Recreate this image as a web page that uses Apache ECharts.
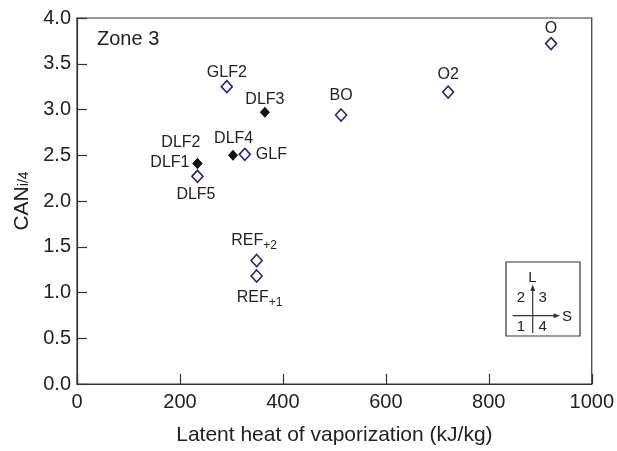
<!DOCTYPE html>
<html>
<head>
<meta charset="utf-8">
<script src="https://cdn.jsdelivr.net/npm/echarts@6/dist/echarts.min.js"></script>
<style>html,body{margin:0;padding:0;background:#fff}#c{width:617px;height:451px}</style>
</head>
<body>
<div id="c"></div>
<script>
// ---- data ----
var openNames = ['O', 'O2', 'BO', 'GLF2', 'GLF', 'DLF5', 'REF+2', 'REF+1'];
var openX = [921, 721, 513, 291, 326, 234, 349, 349];
var openY = [3.72, 3.19, 2.94, 3.25, 2.51, 2.27, 1.35, 1.18];
var filledNames = ['DLF3', 'DLF4', 'DLF1', 'DLF2'];
var filledX = [365, 303, 234, 234];
var filledY = [2.97, 2.50, 2.41, 2.41];
var xTicks = [0, 200, 400, 600, 800, 1000];
var yTicks = [0, 0.5, 1, 1.5, 2, 2.5, 3, 3.5, 4];
var xTitle = 'Latent heat of vaporization (kJ/kg)';
var yTitleMain = 'CAN';
var yTitleSub = 'i/4';
var zoneText = 'Zone 3';

// ---- label placement (style only) ----
var labelPlace = {
  'O':     {align: 'center', off: [0, -15]},
  'O2':    {align: 'center', off: [0, -18]},
  'BO':    {align: 'center', off: [0, -19.5]},
  'GLF2':  {align: 'center', off: [0, -14.5]},
  'GLF':   {align: 'left',   off: [11, 0]},
  'DLF5':  {align: 'center', off: [-1.5, 18]},
  'REF+2': {align: 'center', off: [-2.5, -20]},
  'REF+1': {align: 'center', off: [3, 21.5]},
  'DLF3':  {align: 'center', off: [0, -13]},
  'DLF4':  {align: 'center', off: [0.7, -16.5]},
  'DLF1':  {align: 'right',  off: [-8, -1]},
  'DLF2':  {align: 'right',  off: [3, -21]}
};

var FONT = "'Liberation Sans', Arial, Helvetica, sans-serif";
var TXT = '#222';
var AX = '#333';

function labelText(name) {
  var m = name.match(/^(REF)(\+\d)$/);
  if (m) return '{m|' + m[1] + '}{s|' + m[2] + '}';
  return '{p|' + name + '}';
}
function buildData(names, xs, ys) {
  return names.map(function (n, i) {
    var lp = labelPlace[n];
    return {
      name: n,
      value: [xs[i], ys[i]],
      label: {
        show: true,
        position: 'inside',
        align: lp.align,
        verticalAlign: 'middle',
        offset: lp.off,
        formatter: labelText(n),
        color: TXT,
        fontFamily: FONT,
        rich: {
          p: {fontSize: 16, fontFamily: FONT, color: TXT},
          m: {fontSize: 16, fontFamily: FONT, color: TXT},
          s: {fontSize: 12, padding: [10, 0, 0, 0], fontFamily: FONT, color: TXT}
        }
      }
    };
  });
}

var chart = echarts.init(document.getElementById('c'), null, {renderer: 'canvas'});
var option = {
  animation: false,
  backgroundColor: '#fff',
  grid: {left: 77, right: 23, top: 18, bottom: 67, show: true, borderColor: AX, borderWidth: 1.2, backgroundColor: 'transparent'},
  xAxis: {
    type: 'value', min: xTicks[0], max: xTicks[xTicks.length - 1], interval: 200,
    name: xTitle, nameLocation: 'middle', nameGap: 41,
    nameTextStyle: {fontSize: 21, color: TXT, fontFamily: FONT},
    axisLine: {show: true, lineStyle: {color: AX, width: 1.2}},
    axisTick: {show: true, inside: true, length: 10, lineStyle: {color: AX, width: 1.2}},
    axisLabel: {fontSize: 20, color: TXT, fontFamily: FONT, margin: 8, formatter: function (v) { return String(v); }},
    splitLine: {show: false}
  },
  yAxis: {
    type: 'value', min: yTicks[0], max: yTicks[yTicks.length - 1], interval: 0.5,
    name: '{m|' + yTitleMain + '}{s|' + yTitleSub + '}', nameLocation: 'middle', nameGap: 42, nameRotate: 90,
    nameTextStyle: {
      color: TXT, fontFamily: FONT,
      rich: {
        m: {fontSize: 21, fontFamily: FONT, color: TXT},
        s: {fontSize: 14, padding: [4, 0, 0, 0], fontFamily: FONT, color: TXT}
      }
    },
    axisLine: {show: true, lineStyle: {color: AX, width: 1.2}},
    axisTick: {show: true, inside: true, length: 10, lineStyle: {color: AX, width: 1.2}},
    axisLabel: {fontSize: 20, color: TXT, fontFamily: FONT, margin: 6, formatter: function (v) { return v.toFixed(1); }},
    splitLine: {show: false}
  },
  series: [
    {
      type: 'scatter', symbol: 'diamond', symbolSize: [11, 12],
      itemStyle: {color: '#fff', borderColor: '#24247c', borderWidth: 1.6, opacity: 1},
      emphasis: {disabled: true},
      data: buildData(openNames, openX, openY),
      z: 3
    },
    {
      type: 'scatter', symbol: 'diamond', symbolSize: [10, 11],
      itemStyle: {color: '#111', opacity: 1},
      emphasis: {disabled: true},
      data: buildData(filledNames, filledX, filledY),
      z: 4
    }
  ],
  graphic: [
    {type: 'text', left: 97, top: 29, style: {text: zoneText, fill: TXT, font: '20px ' + FONT}},
    {type: 'rect', shape: {x: 506, y: 262, width: 74, height: 74}, style: {fill: '#fff', stroke: AX, lineWidth: 1.2}},
    {type: 'polyline', shape: {points: [[532.7, 333], [532.7, 289]]}, style: {stroke: AX, lineWidth: 1.2}},
    {type: 'polygon', shape: {points: [[532.7, 284.5], [530.2, 291], [535.2, 291]]}, style: {fill: AX}},
    {type: 'polyline', shape: {points: [[512.7, 315.7], [556, 315.7]]}, style: {stroke: AX, lineWidth: 1.2}},
    {type: 'polygon', shape: {points: [[560, 315.7], [553.5, 313.2], [553.5, 318.2]]}, style: {fill: AX}},
    {type: 'text', x: 532.3, y: 278.3, style: {text: 'L', fill: TXT, font: '15px ' + FONT, textAlign: 'center', textVerticalAlign: 'middle'}},
    {type: 'text', x: 567, y: 316.7, style: {text: 'S', fill: TXT, font: '15px ' + FONT, textAlign: 'center', textVerticalAlign: 'middle'}},
    {type: 'text', x: 521, y: 298.3, style: {text: '2', fill: TXT, font: '15px ' + FONT, textAlign: 'center', textVerticalAlign: 'middle'}},
    {type: 'text', x: 542.7, y: 298.3, style: {text: '3', fill: TXT, font: '15px ' + FONT, textAlign: 'center', textVerticalAlign: 'middle'}},
    {type: 'text', x: 521, y: 326.7, style: {text: '1', fill: TXT, font: '15px ' + FONT, textAlign: 'center', textVerticalAlign: 'middle'}},
    {type: 'text', x: 542.7, y: 326.7, style: {text: '4', fill: TXT, font: '15px ' + FONT, textAlign: 'center', textVerticalAlign: 'middle'}}
  ]
};
chart.setOption(option);
</script>
</body>
</html>
